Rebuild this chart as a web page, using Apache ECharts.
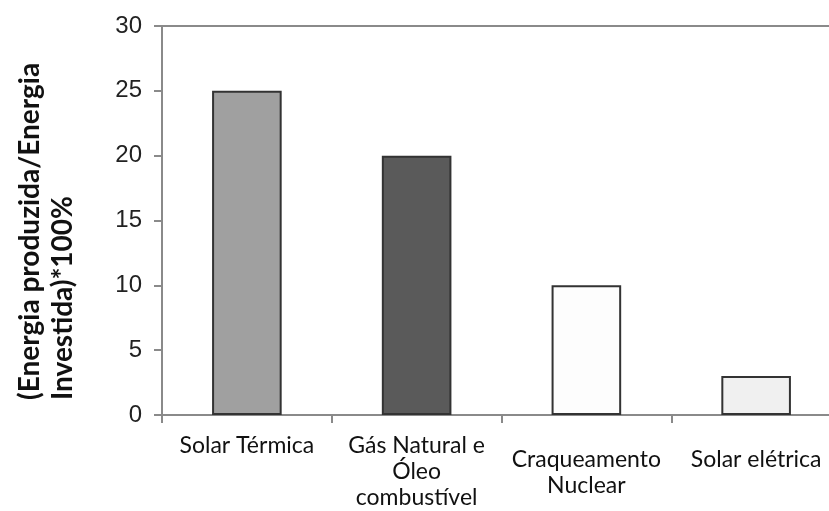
<!DOCTYPE html>
<html>
<head>
<meta charset="utf-8">
<script src="https://cdn.jsdelivr.net/npm/echarts@6/dist/echarts.min.js"></script>
<style>
  html, body { margin: 0; padding: 0; background: #fff; overflow: hidden; }
  #chart { width: 841px; height: 511px; }
</style>
</head>
<body>
<div id="chart"></div>
<script>
// Energy return ratio by source
const categories = ['Solar Térmica', 'Gás Natural e\nÓleo\ncombustível', 'Craqueamento\nNuclear', 'Solar elétrica'];
const values = [25, 20, 10, 3];
const barColors = ['#a0a0a0', '#5a5a5a', '#fdfdfd', '#f0f0f0'];
const labelOffsets = [0, 0, 14, 14];
const yTitleLines = ['(Energia produzida/Energia', 'Investida)*100%'];

const chart = echarts.init(document.getElementById('chart'), null, { renderer: 'canvas' });

chart.setOption({
  animation: false,
  backgroundColor: '#ffffff',
  grid: {
    left: 162, right: 0, top: 26, bottom: 94,
    show: true, borderColor: '#8a8a8a', borderWidth: 2, backgroundColor: 'transparent'
  },
  xAxis: {
    type: 'category',
    data: categories.map((c, i) => ({
      value: c,
      textStyle: { padding: [labelOffsets[i], 0, 0, 0] }
    })),
    axisLine: { lineStyle: { color: '#8a8a8a', width: 2 } },
    axisTick: { show: true, length: 8, lineStyle: { color: '#8a8a8a', width: 2 } },
    axisLabel: {
      margin: 18, interval: 0, color: '#111',
      fontFamily: 'Lato', fontSize: 23, lineHeight: 26, verticalAlign: 'top'
    }
  },
  yAxis: {
    type: 'value', min: 0, max: 30, interval: 5,
    axisLine: { show: true, lineStyle: { color: '#8a8a8a', width: 2 } },
    axisTick: { show: true, length: 8, lineStyle: { color: '#8a8a8a', width: 2 } },
    splitLine: { show: false },
    axisLabel: { margin: 20, color: '#222', fontFamily: 'Liberation Sans', fontSize: 24 }
  },
  series: [{
    type: 'bar',
    barWidth: '41%',
    data: values.map((v, i) => ({
      value: v,
      itemStyle: { color: barColors[i], borderColor: '#333', borderWidth: 2 }
    }))
  }],
  graphic: yTitleLines.map((t, i) => ({
    type: 'text',
    x: 30 + i * 33, y: 400,
    rotation: Math.PI / 2,
    style: {
      text: t, fill: '#111', fontFamily: 'Lato', fontWeight: 'bold', fontSize: 28,
      textAlign: 'left', textVerticalAlign: 'middle'
    }
  }))
});
</script>
</body>
</html>
